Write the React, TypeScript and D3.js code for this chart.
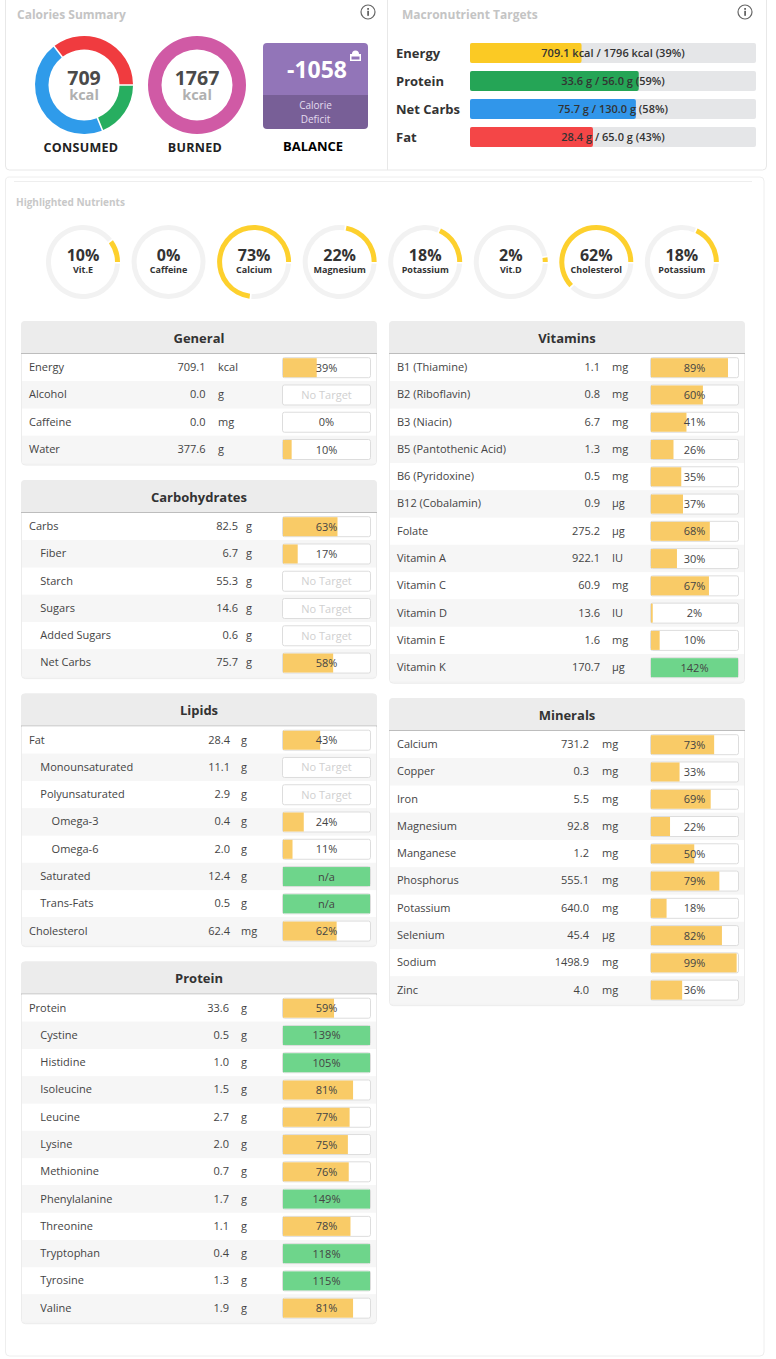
import React from "react";
import * as d3 from "d3";

const FONT = "'Open Sans', sans-serif";

const macroSlices = [
  { name: "Protein", kcal: 134.4, color: "#27ae60" },
  { name: "Carbs", kcal: 330, color: "#2f9bea" },
  { name: "Fat", kcal: 255.6, color: "#f03b3f" },
];
const burnedSlices = [{ name: "Burned", kcal: 1767, color: "#d05aa5" }];

const macroNames = ["Energy", "Protein", "Net Carbs", "Fat"];
const macroLabels = [
  "709.1 kcal / 1796 kcal (39%)",
  "33.6 g / 56.0 g (59%)",
  "75.7 g / 130.0 g (58%)",
  "28.4 g / 65.0 g (43%)",
];
const macroPct = [39, 59, 58, 43];
const macroColors = ["#fbca24", "#25a556", "#3196ea", "#f44647"];

const ringNames = ["Vit.E", "Caffeine", "Calcium", "Magnesium", "Potassium", "Vit.D", "Cholesterol", "Potassium"];
const ringPct = [10, 0, 73, 22, 18, 2, 62, 18];

type Row = [string, number, string, number | null, number?, string?];
// name, amount, unit, percent (null = No Target), indent level, forced label

const generalRows: Row[] = [
  ["Energy", 709.1, "kcal", 39],
  ["Alcohol", 0.0, "g", null],
  ["Caffeine", 0.0, "mg", 0],
  ["Water", 377.6, "g", 10],
];
const carbRows: Row[] = [
  ["Carbs", 82.5, "g", 63],
  ["Fiber", 6.7, "g", 17, 1],
  ["Starch", 55.3, "g", null, 1],
  ["Sugars", 14.6, "g", null, 1],
  ["Added Sugars", 0.6, "g", null, 1],
  ["Net Carbs", 75.7, "g", 58, 1],
];
const lipidRows: Row[] = [
  ["Fat", 28.4, "g", 43],
  ["Monounsaturated", 11.1, "g", null, 1],
  ["Polyunsaturated", 2.9, "g", null, 1],
  ["Omega-3", 0.4, "g", 24, 2],
  ["Omega-6", 2.0, "g", 11, 2],
  ["Saturated", 12.4, "g", 100, 1, "n/a"],
  ["Trans-Fats", 0.5, "g", 100, 1, "n/a"],
  ["Cholesterol", 62.4, "mg", 62],
];
const proteinRows: Row[] = [
  ["Protein", 33.6, "g", 59],
  ["Cystine", 0.5, "g", 139, 1],
  ["Histidine", 1.0, "g", 105, 1],
  ["Isoleucine", 1.5, "g", 81, 1],
  ["Leucine", 2.7, "g", 77, 1],
  ["Lysine", 2.0, "g", 75, 1],
  ["Methionine", 0.7, "g", 76, 1],
  ["Phenylalanine", 1.7, "g", 149, 1],
  ["Threonine", 1.1, "g", 78, 1],
  ["Tryptophan", 0.4, "g", 118, 1],
  ["Tyrosine", 1.3, "g", 115, 1],
  ["Valine", 1.9, "g", 81, 1],
];
const vitaminRows: Row[] = [
  ["B1 (Thiamine)", 1.1, "mg", 89],
  ["B2 (Riboflavin)", 0.8, "mg", 60],
  ["B3 (Niacin)", 6.7, "mg", 41],
  ["B5 (Pantothenic Acid)", 1.3, "mg", 26],
  ["B6 (Pyridoxine)", 0.5, "mg", 35],
  ["B12 (Cobalamin)", 0.9, "µg", 37],
  ["Folate", 275.2, "µg", 68],
  ["Vitamin A", 922.1, "IU", 30],
  ["Vitamin C", 60.9, "mg", 67],
  ["Vitamin D", 13.6, "IU", 2],
  ["Vitamin E", 1.6, "mg", 10],
  ["Vitamin K", 170.7, "µg", 142],
];
const mineralRows: Row[] = [
  ["Calcium", 731.2, "mg", 73],
  ["Copper", 0.3, "mg", 33],
  ["Iron", 5.5, "mg", 69],
  ["Magnesium", 92.8, "mg", 22],
  ["Manganese", 1.2, "mg", 50],
  ["Phosphorus", 555.1, "mg", 79],
  ["Potassium", 640.0, "mg", 18],
  ["Selenium", 45.4, "µg", 82],
  ["Sodium", 1498.9, "mg", 99],
  ["Zinc", 4.0, "mg", 36],
];

const ROW_H = 27.27;
const barScale = d3.scaleLinear().domain([0, 100]).range([0, 86.5]).clamp(true);
const macroScale = d3.scaleLinear().domain([0, 100]).range([0, 286]);

function Donut({ cx, data, pad }: { cx: number; data: { kcal: number; color: string }[]; pad: number }) {
  const pie = d3
    .pie<{ kcal: number; color: string }>()
    .value((d) => d.kcal)
    .sort(null)
    .startAngle(Math.PI / 2)
    .endAngle(Math.PI / 2 + 2 * Math.PI)
    .padAngle(pad);
  const arc = d3.arc<any>().innerRadius(35.5).outerRadius(49);
  return (
    <g transform={`translate(${cx},85)`}>
      {pie(data).map((d, i) => (
        <path key={i} d={arc(d) as string} fill={d.data.color} />
      ))}
    </g>
  );
}

function Ring({ cx, pct, name }: { cx: number; pct: number; name: string }) {
  const arc = d3.arc<any>().innerRadius(32).outerRadius(37);
  const span = (pct / 100) * 2 * Math.PI;
  const gap = 0.05;
  const end = Math.PI / 2;
  const start = end - span;
  return (
    <g transform={`translate(${cx},262)`}>
      <path
        d={arc({ startAngle: end + (pct > 0 ? gap : 0), endAngle: start + 2 * Math.PI - (pct > 0 ? gap : 0) }) as string}
        fill="#f2f2f2"
      />
      {pct > 0 && <path d={arc({ startAngle: start, endAngle: end }) as string} fill="#fdd02d" />}
      <text x={0} y={-1} textAnchor="middle" fontSize={16} fontWeight={700} fill="#333">{pct}%</text>
      <text x={0} y={11} textAnchor="middle" fontSize={9} fontWeight={700} fill="#333">{name}</text>
    </g>
  );
}

function InfoIcon({ x, y }: { x: number; y: number }) {
  return (
    <g transform={`translate(${x},${y})`}>
      <circle r={7} fill="none" stroke="#666" strokeWidth={1.2} />
      <rect x={-0.8} y={-1.2} width={1.8} height={5} fill="#666" />
      <rect x={-0.8} y={-4} width={1.8} height={1.8} fill="#666" />
    </g>
  );
}

function Table({
  title, rows, x, y, valueRight, unitX,
}: { title: string; rows: Row[]; x: number; y: number; valueRight: number; unitX: number }) {
  const w = 356;
  const bodyH = rows.length * ROW_H;
  const h = 33 + bodyH + 1.5;
  const barX = x + 261;
  return (
    <g>
      <rect x={x + 0.5} y={y + 0.5} width={w - 1} height={h} rx={4} fill="#f4f4f4" stroke="#ececec" />
      <path
        d={`M${x},${y + 32} V${y + 4} a4,4 0 0 1 4,-4 H${x + w - 4} a4,4 0 0 1 4,4 V${y + 32} Z`}
        fill="#ececec"
      />
      <line x1={x} x2={x + w} y1={y + 32.5} y2={y + 32.5} stroke="#bdbdbd" />
      <text x={x + w / 2} y={y + 21.5} textAnchor="middle" fontSize={13} fontWeight={700} fill="#333">{title}</text>
      {rows.map((r, i) => {
        const [name, amount, unit, pct, indent = 0, label] = r;
        const top = y + 33 + i * ROW_H;
        const cy = top + ROW_H / 2;
        const barY = top + 3.2;
        const over = pct !== null && pct >= 100;
        return (
          <g key={name + i}>
            <rect x={x + 1} y={top} width={w - 2} height={ROW_H} fill={i % 2 === 1 ? "#f6f6f6" : "#fff"} />
            <text x={x + 8 + indent * 11.3} y={cy + 3.5} fontSize={11} fill="#444">{name}</text>
            <text x={valueRight} y={cy + 3.5} textAnchor="end" fontSize={11} fill="#444">{amount.toFixed(1)}</text>
            <text x={unitX} y={cy + 3.5} fontSize={11} fill="#444">{unit}</text>
            <rect x={barX + 0.5} y={barY + 0.5} width={88} height={20} rx={2} fill="#fff" stroke="#ddd" />
            {pct !== null && pct > 0 && (
              <rect x={barX + 1} y={barY + 1} width={over ? 87 : barScale(pct)} height={19} fill={over ? "#6ed58b" : "#f9cb67"} />
            )}
            <text
              x={barX + 44.5}
              y={barY + 14.5}
              textAnchor="middle"
              fontSize={11}
              fill={pct === null ? "#d0d0d0" : "#444"}
            >
              {pct === null ? "No Target" : label ?? `${pct}%`}
            </text>
          </g>
        );
      })}
    </g>
  );
}

export default function App() {
  return (
    <svg
      width={776}
      height={1359}
      viewBox="0 0 776 1359"
      style={{ position: "absolute", left: 0, top: 0, fontFamily: FONT, background: "#fff" }}
    >
      {/* top panel */}
      <path d="M5.5,0 V166 a4,4 0 0 0 4,4 H762.5 a4,4 0 0 0 4,-4 V0" fill="none" stroke="#e8e8e8" />
      <line x1={387.5} x2={387.5} y1={0} y2={170} stroke="#e8e8e8" />
      <text x={17} y={18.5} fontSize={12} fontWeight={700} fill="#c4c4c4">Calories Summary</text>
      <text x={402} y={18.5} fontSize={12} fontWeight={700} fill="#c4c4c4">Macronutrient Targets</text>
      <InfoIcon x={368} y={12} />
      <InfoIcon x={745} y={12} />

      <Donut cx={84} data={macroSlices} pad={0.025} />
      <text x={84} y={85} textAnchor="middle" fontSize={19.5} fontWeight={700} fill="#4a4a4a">709</text>
      <text x={84} y={100} textAnchor="middle" fontSize={14.5} fontWeight={700} fill="#b0b0b0">kcal</text>
      <text x={81} y={152} textAnchor="middle" fontSize={12.5} fontWeight={700} fill="#222" letterSpacing={0.3}>CONSUMED</text>

      <Donut cx={197} data={burnedSlices} pad={0.025} />
      <text x={197} y={85} textAnchor="middle" fontSize={19.5} fontWeight={700} fill="#4a4a4a">1767</text>
      <text x={197} y={100} textAnchor="middle" fontSize={14.5} fontWeight={700} fill="#b0b0b0">kcal</text>
      <text x={195} y={152} textAnchor="middle" fontSize={12.5} fontWeight={700} fill="#222" letterSpacing={0.3}>BURNED</text>

      <path d="M263,95 V47 a4,4 0 0 1 4,-4 H364 a4,4 0 0 1 4,4 V95 Z" fill="#9275b8" />
      <path d="M263,95 H368 V125 a4,4 0 0 1 -4,4 H267 a4,4 0 0 1 -4,-4 Z" fill="#785f97" />
      <text x={317} y={78} textAnchor="middle" fontSize={23} fontWeight={700} fill="#fff">-1058</text>
      <text x={315.5} y={109} textAnchor="middle" fontSize={10} fill="#e4dcef">Calorie</text>
      <text x={315.5} y={123} textAnchor="middle" fontSize={10} fill="#e4dcef">Deficit</text>
      <path d="M350,54 H352 a3.2,3.2 0 0 1 7,0 H361 V61 H350 Z M351.5,56.5 V59.5 H359.5 V56.5 Z" fill="#fff" fillRule="evenodd" />
      <text x={313} y={151} textAnchor="middle" fontSize={13} fontWeight={700} fill="#000">BALANCE</text>

      {macroNames.map((name, i) => {
        const y = 43 + i * 28;
        return (
          <g key={name}>
            <text x={396} y={y + 15} fontSize={13} fontWeight={700} fill="#333">{name}</text>
            <rect x={470} y={y} width={286} height={20} rx={2} fill="#e5e6e8" />
            <rect x={470} y={y} width={macroScale(macroPct[i])} height={20} rx={2} fill={macroColors[i]} />
            <text x={613} y={y + 13.5} textAnchor="middle" fontSize={11} fontWeight={600} fill="#333">{macroLabels[i]}</text>
          </g>
        );
      })}

      {/* lower panel */}
      <path d="M5.5,1352 V181 a4,4 0 0 1 4,-4 H760 a4,4 0 0 1 4,4 V1352 a4,4 0 0 1 -4,4 H9.5 a4,4 0 0 1 -4,-4 Z" fill="#fff" stroke="#eeeeee" />
      <line x1={14} x2={752} y1={181.5} y2={181.5} stroke="#eeeeee" />
      <text x={16} y={206} fontSize={10} fontWeight={700} fill="#c8c8c8">Highlighted Nutrients</text>

      {ringNames.map((n, i) => (
        <Ring key={i} cx={83 + i * 85.55} pct={ringPct[i]} name={n} />
      ))}

      <Table title="General" rows={generalRows} x={21} y={321} valueRight={205.5} unitX={218} />
      <Table title="Carbohydrates" rows={carbRows} x={21} y={480} valueRight={238} unitX={246} />
      <Table title="Lipids" rows={lipidRows} x={21} y={693.5} valueRight={230} unitX={241} />
      <Table title="Protein" rows={proteinRows} x={21} y={961.5} valueRight={229} unitX={241} />
      <Table title="Vitamins" rows={vitaminRows} x={389} y={321} valueRight={600} unitX={612} />
      <Table title="Minerals" rows={mineralRows} x={389} y={698} valueRight={589} unitX={602} />
    </svg>
  );
}
